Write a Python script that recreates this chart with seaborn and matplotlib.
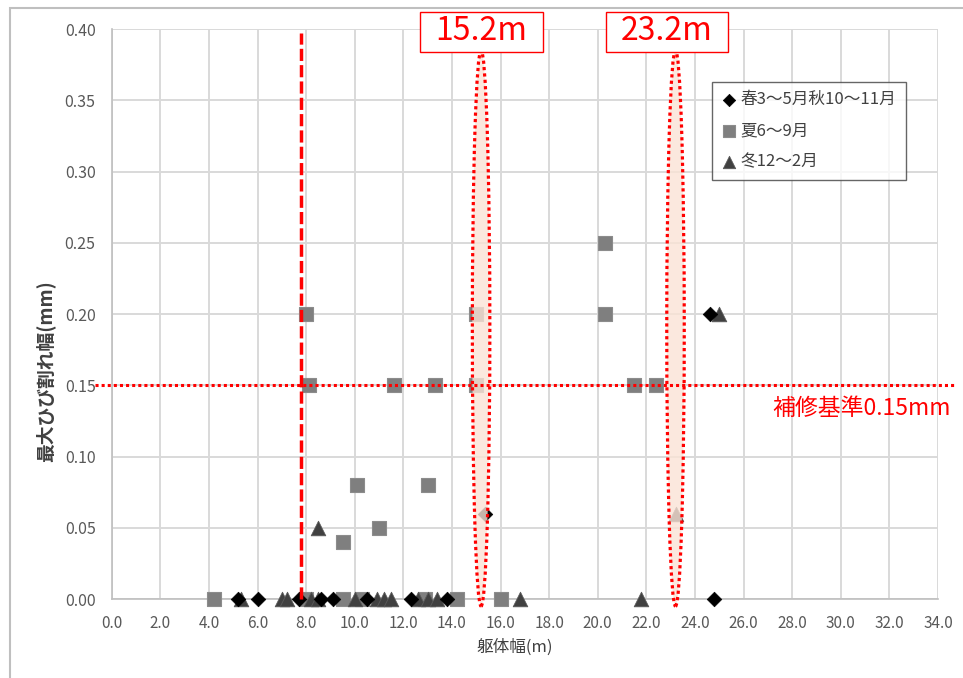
import matplotlib
matplotlib.use('Agg')
import numpy as np
import pandas as pd
import seaborn as sns
import matplotlib.pyplot as plt
from matplotlib.patches import Ellipse, Rectangle

# data
spring_x = [5.2, 6.0, 7.7, 8.6, 9.1, 10.5, 12.3, 13.8, 24.8, 15.35, 24.6]
spring_y = [0.00, 0.00, 0.00, 0.00, 0.00, 0.00, 0.00, 0.00, 0.00, 0.06, 0.20]

summer_x = [4.2, 8.0, 9.5, 10.3, 12.9, 14.2, 16.0, 9.5, 11.0, 10.1, 13.0,
            8.1, 11.6, 13.3, 15.0, 21.5, 22.4, 8.0, 15.0, 20.3, 20.3]
summer_y = [0.00, 0.00, 0.00, 0.00, 0.00, 0.00, 0.00, 0.04, 0.05, 0.08, 0.08,
            0.15, 0.15, 0.15, 0.15, 0.15, 0.15, 0.20, 0.20, 0.20, 0.25]

winter_x = [5.3, 7.0, 7.2, 8.2, 8.5, 10.0, 10.9, 11.2, 11.5, 12.6, 13.0, 13.4,
            16.8, 21.8, 8.5, 23.2, 25.0]
winter_y = [0.00, 0.00, 0.00, 0.00, 0.00, 0.00, 0.00, 0.00, 0.00, 0.00, 0.00, 0.00,
            0.00, 0.00, 0.05, 0.06, 0.20]

series_labels = ['春3～5月秋10～11月', '夏6～9月', '冬12～2月']
x_ticks = np.arange(0, 34.1, 2.0)
y_ticks = np.arange(0, 0.401, 0.05)

limit_x = 7.8          # vertical dashed line
repair_limit = 0.15    # horizontal dotted line
marked_widths = [15.2, 23.2]

df_spring = pd.DataFrame({'x': spring_x, 'y': spring_y})
df_summer = pd.DataFrame({'x': summer_x, 'y': summer_y})
df_winter = pd.DataFrame({'x': winter_x, 'y': winter_y})

sns.set_style('white')
plt.rcParams['font.family'] = ['Noto Sans CJK JP', 'DejaVu Sans']

fig = plt.figure(figsize=(9.63, 6.78), dpi=100)
ax = fig.add_axes([0.116, 0.1165, 0.858, 0.8407])

sns.scatterplot(data=df_summer, x='x', y='y', marker='s', s=110, color='#7f7f7f',
                edgecolor='#8c8c8c', linewidth=0.8, label=series_labels[1], zorder=3,
                clip_on=False, ax=ax)
sns.scatterplot(data=df_winter, x='x', y='y', marker='^', s=110, color='#404040',
                edgecolor='#595959', linewidth=0.6, label=series_labels[2], zorder=3,
                clip_on=False, ax=ax)
sns.scatterplot(data=df_spring, x='x', y='y', marker='D', s=55, color='black',
                edgecolor='black', linewidth=0.5, label=series_labels[0], zorder=3,
                clip_on=False, ax=ax)

ax.set_xlim(0, 34)
ax.set_ylim(0, 0.40)
ax.set_xticks(x_ticks)
ax.set_yticks(y_ticks)
ax.set_xticklabels(['%.1f' % v for v in x_ticks])
ax.set_yticklabels(['%.2f' % v for v in y_ticks])
ax.grid(True, color='#d9d9d9', lw=1.4, zorder=0)
ax.set_axisbelow(True)
for s in ['top', 'right']:
    ax.spines[s].set_visible(False)
for s in ['left', 'bottom']:
    ax.spines[s].set_color('#bfbfbf')
    ax.spines[s].set_linewidth(1.2)
ax.tick_params(axis='both', length=4.5, width=1.2, color='#bfbfbf',
               labelcolor='#595959', labelsize=11, pad=7)
ax.tick_params(axis='y', labelsize=11.5)

ax.set_xlabel('躯体幅(m)', fontsize=12, color='#404040')
ax.set_ylabel('最大ひび割れ幅(mm)', fontsize=13.5, fontweight='bold', color='#404040')
ax.xaxis.set_label_coords(0.488, -0.07)
ax.yaxis.set_label_coords(-0.068, 0.40)

# legend, ordered as in the reference
h, l = ax.get_legend_handles_labels()
order = [l.index(t) for t in series_labels]
leg = ax.legend([h[i] for i in order], [l[i] for i in order], loc='upper left',
                bbox_to_anchor=(0.726, 0.907), borderaxespad=0, frameon=True,
                fancybox=False, edgecolor='#404040', fontsize=12, borderpad=0.55,
                labelspacing=0.85, handletextpad=0.2, handlelength=1.0, markerscale=0.85)
leg.get_frame().set_linewidth(1.0)
for t in leg.get_texts():
    t.set_color('#404040')

# red reference lines
ax.plot([limit_x, limit_x], [0, 0.397], color='red', lw=2.5, ls=(0, (3.5, 1.2)),
        zorder=5, clip_on=False)
ax.plot([-0.7, 34.7], [repair_limit, repair_limit], color='red', lw=2.2,
        ls=(0, (1, 1)), zorder=5, clip_on=False)
ax.text(27.2, 0.134, '補修基準0.15mm', color='red', fontsize=16.5,
        ha='left', va='center', clip_on=False, zorder=6)

# highlighted widths with their labels
box_x = [15.2, 22.85]
for wx, bx in zip(marked_widths, box_x):
    ax.add_patch(Ellipse((wx, 0.19), width=0.72, height=0.39,
                         facecolor=(0.98, 0.89, 0.84, 0.8), edgecolor='red',
                         ls=(0, (1, 1)), lw=2.3, zorder=4, clip_on=False))
    ax.add_patch(Rectangle((bx - 2.53, 0.384), 5.06, 0.028, facecolor='white',
                           edgecolor='red', lw=1.0, zorder=7, clip_on=False))
    ax.text(bx, 0.3985, '%.1fm' % wx, color='red', fontsize=23, ha='center', va='center',
            zorder=8, clip_on=False)

# outer chart frame
fig.patches.append(Rectangle((0.0104, -0.05), 1.0, 1.038, transform=fig.transFigure,
                             fill=False, edgecolor='#bfbfbf', lw=1.5))

fig.savefig('out.png', dpi=100)
